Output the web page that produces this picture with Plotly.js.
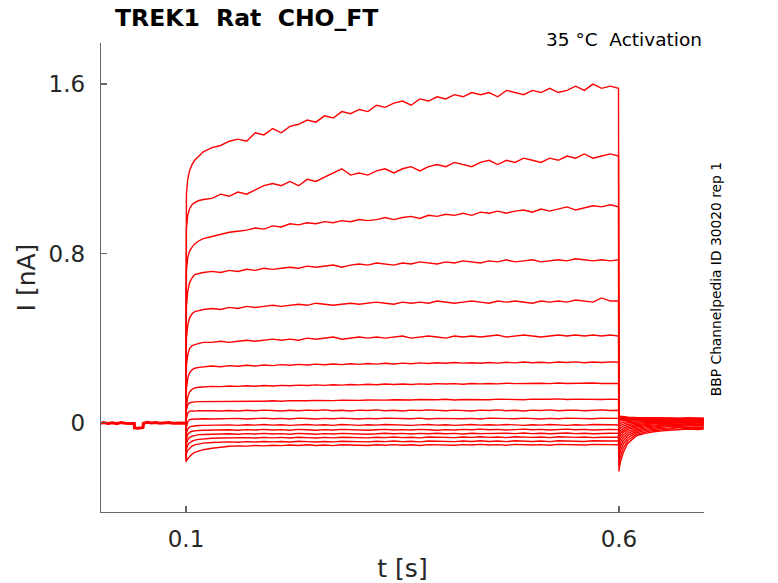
<!DOCTYPE html>
<html>
<head>
<meta charset="utf-8">
<script src="https://cdn.plot.ly/plotly-3.0.1.min.js"></script>
<style>html,body{margin:0;padding:0;background:#fff;}#plot{width:778px;height:583px;}</style>
</head>
<body>
<div id="plot"></div>
<script>
// time grids [s]
const tPre = [0.00185, 0.005, 0.01, 0.015, 0.02, 0.025, 0.03, 0.035, 0.0403, 0.0405, 0.045, 0.05, 0.0505, 0.0507, 0.055, 0.06, 0.065, 0.07, 0.075, 0.08, 0.085, 0.09, 0.095, 0.0998];
const tStep = [0.1, 0.1005, 0.102, 0.104, 0.107, 0.11, 0.115, 0.12, 0.13, 0.14,
  0.15, 0.16, 0.17, 0.18, 0.19, 0.2, 0.21, 0.22, 0.23, 0.24, 0.25, 0.26, 0.27, 0.28, 0.29,
  0.3, 0.31, 0.32, 0.33, 0.34, 0.35, 0.36, 0.37, 0.38, 0.39, 0.4, 0.41, 0.42, 0.43, 0.44,
  0.45, 0.46, 0.47, 0.48, 0.49, 0.5, 0.51, 0.52, 0.53, 0.54, 0.55, 0.56, 0.57, 0.58, 0.59, 0.5995];
const tTail = [0.6, 0.6005, 0.602, 0.605, 0.61, 0.62, 0.63, 0.64, 0.65, 0.66, 0.67, 0.68, 0.69, 0.698];

// holding current before the step [nA]
const basePre = [-0.002, 0.001, -0.003, 0.0, -0.004, 0.001, -0.002, -0.001, -0.003, -0.024, -0.026, -0.022, -0.025, -0.003, 0.002, -0.001, 0.001, -0.002, 0.0, 0.001, -0.002, 0.0, -0.001, -0.002];

// currents during the voltage step [nA], one array per sweep
const step1 = [0.95, 1.08, 1.15, 1.19, 1.22, 1.24, 1.26, 1.28, 1.30, 1.31,
  1.33, 1.34, 1.33, 1.37, 1.36, 1.39, 1.37, 1.40, 1.41, 1.43, 1.42, 1.45, 1.44, 1.47, 1.46,
  1.48, 1.47, 1.50, 1.49, 1.51, 1.52, 1.50, 1.53, 1.52, 1.54, 1.53, 1.55, 1.54, 1.56, 1.55,
  1.56, 1.54, 1.57, 1.56, 1.55, 1.57, 1.56, 1.58, 1.56, 1.57, 1.59, 1.57, 1.60, 1.58, 1.59, 1.58];
const step2 = [0.80, 0.92, 0.98, 1.01, 1.03, 1.04, 1.05, 1.055, 1.06, 1.08,
  1.07, 1.09, 1.08, 1.10, 1.12, 1.13, 1.12, 1.14, 1.12, 1.15, 1.14, 1.16, 1.18, 1.20, 1.17,
  1.18, 1.17, 1.19, 1.20, 1.18, 1.20, 1.21, 1.19, 1.21, 1.22, 1.21, 1.23, 1.22, 1.21, 1.23,
  1.24, 1.22, 1.24, 1.23, 1.25, 1.24, 1.23, 1.25, 1.24, 1.26, 1.25, 1.27, 1.25, 1.26, 1.27, 1.26];
const step3 = [0.62, 0.72, 0.78, 0.81, 0.83, 0.845, 0.86, 0.87, 0.88, 0.89,
  0.90, 0.905, 0.91, 0.92, 0.915, 0.93, 0.925, 0.94, 0.935, 0.945, 0.94, 0.95, 0.945, 0.955, 0.95,
  0.96, 0.955, 0.96, 0.97, 0.96, 0.97, 0.975, 0.965, 0.98, 0.975, 0.985, 0.98, 0.99, 0.98, 0.995,
  0.99, 1.00, 0.99, 1.00, 1.005, 0.995, 1.01, 1.00, 1.01, 1.02, 1.005, 1.015, 1.025, 1.02, 1.03, 1.02];
const step4 = [0.45, 0.55, 0.62, 0.66, 0.685, 0.70, 0.705, 0.71, 0.715, 0.71,
  0.72, 0.715, 0.725, 0.72, 0.73, 0.725, 0.73, 0.735, 0.73, 0.74, 0.735, 0.74, 0.745, 0.735, 0.745,
  0.75, 0.745, 0.755, 0.75, 0.745, 0.755, 0.75, 0.76, 0.755, 0.75, 0.76, 0.755, 0.765, 0.76, 0.755,
  0.765, 0.76, 0.77, 0.76, 0.765, 0.77, 0.76, 0.765, 0.77, 0.765, 0.775, 0.77, 0.765, 0.77, 0.765, 0.77];
const step5 = [0.30, 0.40, 0.46, 0.495, 0.515, 0.525, 0.53, 0.535, 0.54, 0.535,
  0.545, 0.54, 0.55, 0.545, 0.55, 0.555, 0.55, 0.555, 0.56, 0.555, 0.565, 0.56, 0.555, 0.56, 0.565,
  0.56, 0.565, 0.57, 0.565, 0.56, 0.57, 0.565, 0.57, 0.565, 0.575, 0.57, 0.565, 0.57, 0.575, 0.57,
  0.565, 0.575, 0.57, 0.575, 0.57, 0.565, 0.575, 0.57, 0.575, 0.57, 0.58, 0.575, 0.57, 0.59, 0.575, 0.575];
const step6 = [0.18, 0.27, 0.32, 0.35, 0.365, 0.37, 0.375, 0.38, 0.38, 0.385,
  0.38, 0.385, 0.39, 0.385, 0.39, 0.395, 0.39, 0.395, 0.39, 0.40, 0.395, 0.40, 0.405, 0.395, 0.40,
  0.405, 0.40, 0.405, 0.40, 0.405, 0.41, 0.40, 0.405, 0.41, 0.405, 0.40, 0.41, 0.405, 0.41, 0.405,
  0.41, 0.415, 0.405, 0.41, 0.415, 0.41, 0.405, 0.41, 0.415, 0.41, 0.415, 0.41, 0.415, 0.41, 0.415, 0.41];
const step7 = [0.08, 0.16, 0.21, 0.235, 0.25, 0.258, 0.262, 0.265, 0.268, 0.265,
  0.27, 0.267, 0.272, 0.268, 0.273, 0.27, 0.275, 0.272, 0.276, 0.273, 0.277, 0.274, 0.278, 0.275, 0.279,
  0.276, 0.28, 0.277, 0.281, 0.278, 0.282, 0.279, 0.283, 0.28, 0.284, 0.281, 0.285, 0.282, 0.284, 0.281,
  0.285, 0.282, 0.286, 0.283, 0.287, 0.284, 0.286, 0.283, 0.287, 0.285, 0.288, 0.284, 0.287, 0.285, 0.288, 0.286];
const step8 = [0.02, 0.08, 0.12, 0.145, 0.158, 0.165, 0.168, 0.17, 0.172, 0.171,
  0.174, 0.172, 0.175, 0.173, 0.176, 0.174, 0.177, 0.175, 0.178, 0.176, 0.179, 0.177, 0.18, 0.178, 0.181,
  0.179, 0.182, 0.18, 0.183, 0.181, 0.183, 0.181, 0.184, 0.182, 0.185, 0.183, 0.185, 0.182, 0.186, 0.184,
  0.186, 0.184, 0.187, 0.185, 0.186, 0.184, 0.187, 0.185, 0.188, 0.186, 0.187, 0.185, 0.188, 0.186, 0.187, 0.186];
const step9 = [0.0, 0.06, 0.085, 0.095, 0.098, 0.099, 0.1, 0.1, 0.101, 0.1,
  0.1, 0.102, 0.101, 0.103, 0.102, 0.104, 0.102, 0.105, 0.103, 0.104, 0.106, 0.104, 0.105, 0.107, 0.105,
  0.106, 0.108, 0.106, 0.107, 0.109, 0.107, 0.108, 0.11, 0.108, 0.109, 0.111, 0.108, 0.11, 0.109, 0.111,
  0.109, 0.112, 0.11, 0.111, 0.109, 0.112, 0.11, 0.111, 0.113, 0.11, 0.112, 0.111, 0.113, 0.11, 0.112, 0.111];
const step10 = [-0.04, 0.02, 0.045, 0.055, 0.056, 0.055, 0.057, 0.056, 0.057, 0.056,
  0.058, 0.056, 0.059, 0.057, 0.06, 0.058, 0.056, 0.059, 0.057, 0.06, 0.058, 0.061, 0.057, 0.059, 0.056,
  0.06, 0.058, 0.061, 0.057, 0.059, 0.056, 0.06, 0.058, 0.061, 0.059, 0.057, 0.06, 0.058, 0.056, 0.06,
  0.058, 0.061, 0.057, 0.059, 0.056, 0.06, 0.058, 0.061, 0.057, 0.059, 0.06, 0.057, 0.059, 0.061, 0.058, 0.059];
const step11 = [-0.07, -0.02, 0.005, 0.015, 0.017, 0.018, 0.017, 0.019, 0.018, 0.02,
  0.019, 0.021, 0.018, 0.02, 0.022, 0.019, 0.021, 0.018, 0.022, 0.02, 0.018, 0.021, 0.019, 0.022, 0.02,
  0.018, 0.021, 0.019, 0.022, 0.02, 0.021, 0.019, 0.022, 0.018, 0.021, 0.02, 0.022, 0.019, 0.021, 0.018,
  0.022, 0.02, 0.021, 0.019, 0.022, 0.02, 0.018, 0.021, 0.019, 0.022, 0.02, 0.021, 0.019, 0.022, 0.02, 0.021];
const step12 = [-0.1, -0.05, -0.03, -0.02, -0.016, -0.014, -0.013, -0.012, -0.011, -0.012,
  -0.01, -0.012, -0.009, -0.011, -0.008, -0.011, -0.009, -0.012, -0.01, -0.008, -0.011, -0.009, -0.012, -0.008, -0.01,
  -0.012, -0.009, -0.011, -0.008, -0.01, -0.009, -0.012, -0.01, -0.008, -0.011, -0.009, -0.012, -0.01, -0.008, -0.011,
  -0.009, -0.011, -0.008, -0.01, -0.012, -0.009, -0.011, -0.008, -0.01, -0.012, -0.009, -0.011, -0.008, -0.01, -0.009, -0.01];
const step13 = [-0.12, -0.08, -0.055, -0.045, -0.04, -0.038, -0.036, -0.035, -0.034, -0.035,
  -0.033, -0.035, -0.032, -0.034, -0.031, -0.034, -0.032, -0.035, -0.031, -0.033, -0.035, -0.032, -0.034, -0.031, -0.033,
  -0.032, -0.035, -0.033, -0.031, -0.034, -0.032, -0.034, -0.031, -0.033, -0.035, -0.032, -0.034, -0.031, -0.033, -0.03,
  -0.033, -0.031, -0.034, -0.032, -0.03, -0.033, -0.031, -0.034, -0.032, -0.03, -0.033, -0.031, -0.034, -0.032, -0.031, -0.032];
const step14 = [-0.14, -0.1, -0.08, -0.07, -0.063, -0.059, -0.056, -0.055, -0.053, -0.054,
  -0.052, -0.054, -0.051, -0.053, -0.05, -0.053, -0.051, -0.054, -0.05, -0.052, -0.054, -0.051, -0.053, -0.05, -0.052,
  -0.051, -0.054, -0.052, -0.049, -0.052, -0.05, -0.053, -0.05, -0.052, -0.049, -0.052, -0.05, -0.053, -0.049, -0.051,
  -0.05, -0.052, -0.049, -0.051, -0.048, -0.051, -0.049, -0.052, -0.05, -0.048, -0.051, -0.049, -0.052, -0.05, -0.049, -0.05];
const step15 = [-0.16, -0.125, -0.105, -0.095, -0.087, -0.082, -0.078, -0.076, -0.073, -0.072,
  -0.071, -0.073, -0.07, -0.072, -0.069, -0.071, -0.069, -0.072, -0.068, -0.07, -0.072, -0.069, -0.071, -0.068, -0.07,
  -0.069, -0.071, -0.068, -0.07, -0.067, -0.07, -0.068, -0.071, -0.067, -0.069, -0.068, -0.07, -0.067, -0.069, -0.066,
  -0.069, -0.067, -0.07, -0.066, -0.068, -0.069, -0.067, -0.07, -0.066, -0.068, -0.069, -0.067, -0.07, -0.068, -0.067, -0.068];
const step16 = [-0.175, -0.145, -0.13, -0.12, -0.11, -0.104, -0.099, -0.096, -0.093, -0.091,
  -0.09, -0.092, -0.089, -0.091, -0.088, -0.09, -0.088, -0.091, -0.087, -0.089, -0.091, -0.088, -0.09, -0.087, -0.089,
  -0.088, -0.09, -0.087, -0.089, -0.086, -0.089, -0.087, -0.09, -0.086, -0.088, -0.087, -0.089, -0.086, -0.088, -0.085,
  -0.088, -0.086, -0.089, -0.085, -0.087, -0.088, -0.086, -0.089, -0.085, -0.087, -0.086, -0.088, -0.085, -0.087, -0.086, -0.086];
const step17 = [-0.185, -0.18, -0.17, -0.16, -0.148, -0.14, -0.132, -0.127, -0.12, -0.115,
  -0.111, -0.109, -0.11, -0.107, -0.109, -0.106, -0.108, -0.105, -0.107, -0.104, -0.107, -0.105, -0.108, -0.104, -0.106,
  -0.105, -0.107, -0.104, -0.106, -0.103, -0.106, -0.104, -0.107, -0.103, -0.105, -0.104, -0.106, -0.103, -0.105, -0.102,
  -0.105, -0.103, -0.106, -0.102, -0.104, -0.105, -0.103, -0.106, -0.102, -0.104, -0.103, -0.105, -0.102, -0.104, -0.103, -0.104];

// tail currents after returning to holding [nA]
const tail1 = [-0.23, -0.21, -0.18, -0.14, -0.098, -0.062, -0.05, -0.042, -0.038, -0.035, -0.033, -0.03, -0.032, -0.03];
const tail2 = [-0.2, -0.18, -0.155, -0.12, -0.085, -0.055, -0.044, -0.036, -0.033, -0.028, -0.03, -0.026, -0.028, -0.025];
const tail3 = [-0.17, -0.155, -0.13, -0.1, -0.072, -0.047, -0.037, -0.031, -0.026, -0.024, -0.021, -0.023, -0.02, -0.021];
const tail4 = [-0.145, -0.13, -0.11, -0.085, -0.06, -0.04, -0.031, -0.025, -0.02, -0.018, -0.016, -0.017, -0.014, -0.015];
const tail5 = [-0.12, -0.11, -0.092, -0.07, -0.05, -0.033, -0.025, -0.019, -0.015, -0.012, -0.013, -0.01, -0.012, -0.011];
const tail6 = [-0.1, -0.09, -0.075, -0.057, -0.04, -0.026, -0.019, -0.014, -0.011, -0.009, -0.007, -0.009, -0.006, -0.007];
const tail7 = [-0.08, -0.072, -0.06, -0.045, -0.031, -0.02, -0.014, -0.01, -0.007, -0.005, -0.006, -0.003, -0.005, -0.004];
const tail8 = [-0.065, -0.058, -0.048, -0.036, -0.024, -0.014, -0.009, -0.005, -0.003, -0.002, 0.0, -0.002, 0.001, -0.001];
const tail9 = [-0.05, -0.044, -0.036, -0.026, -0.016, -0.008, -0.004, -0.001, 0.001, 0.002, 0.001, 0.003, 0.002, 0.002];
const tail10 = [-0.035, -0.03, -0.024, -0.016, -0.008, -0.002, 0.001, 0.003, 0.004, 0.005, 0.004, 0.006, 0.005, 0.005];
const tail11 = [-0.02, -0.017, -0.012, -0.006, 0.0, 0.004, 0.006, 0.007, 0.008, 0.007, 0.009, 0.008, 0.009, 0.008];
const tail12 = [-0.008, -0.005, -0.002, 0.003, 0.006, 0.009, 0.01, 0.011, 0.01, 0.012, 0.011, 0.012, 0.01, 0.011];
const tail13 = [0.005, 0.007, 0.009, 0.011, 0.012, 0.013, 0.014, 0.013, 0.015, 0.014, 0.013, 0.015, 0.014, 0.013];
const tail14 = [0.015, 0.016, 0.017, 0.017, 0.016, 0.017, 0.016, 0.018, 0.016, 0.017, 0.018, 0.016, 0.017, 0.016];
const tail15 = [0.022, 0.022, 0.021, 0.021, 0.02, 0.02, 0.019, 0.02, 0.019, 0.02, 0.018, 0.02, 0.019, 0.018];
const tail16 = [0.028, 0.027, 0.026, 0.025, 0.024, 0.023, 0.022, 0.023, 0.021, 0.022, 0.021, 0.022, 0.02, 0.021];
const tail17 = [0.035, 0.033, 0.031, 0.029, 0.027, 0.025, 0.024, 0.025, 0.023, 0.024, 0.022, 0.024, 0.023, 0.022];

const steps = [step1, step2, step3, step4, step5, step6, step7, step8, step9, step10, step11, step12, step13, step14, step15, step16, step17];
const tails = [tail1, tail2, tail3, tail4, tail5, tail6, tail7, tail8, tail9, tail10, tail11, tail12, tail13, tail14, tail15, tail16, tail17];

const xTicks = [0.1, 0.6];
const xTickText = ['0.1', '0.6'];
const yTicks = [0, 0.8, 1.6];
const yTickText = ['0', '0.8', '1.6'];

const FONT = 'DejaVu Sans, Liberation Sans, sans-serif';
const RED = '#ff0000';

const tAll = tPre.concat(tStep, tTail);
const traces = steps.map((s, i) => ({
  type: 'scatter', mode: 'lines',
  x: tAll,
  y: basePre.concat(s, tails[i]),
  line: {color: RED, width: 1.4},
  hoverinfo: 'skip', showlegend: false
}));
traces.push({
  type: 'scatter', mode: 'lines', x: tPre, y: basePre,
  line: {color: RED, width: 3}, hoverinfo: 'skip', showlegend: false
});

const axisCommon = {
  showline: true, linecolor: '#666', linewidth: 1.3,
  ticks: 'inside', ticklen: 6, tickwidth: 1.2, tickcolor: '#666',
  showgrid: false, zeroline: false, automargin: false,
  tickfont: {family: FONT, size: 23, color: '#262626'}
};

const layout = {
  width: 778, height: 583,
  margin: {l: 101, r: 74, t: 43, b: 71, pad: 0},
  paper_bgcolor: '#fff', plot_bgcolor: '#fff',
  font: {family: FONT},
  xaxis: Object.assign({}, axisCommon, {
    range: [0.00185, 0.6982],
    tickmode: 'array', tickvals: xTicks, ticktext: xTickText,
    ticklabelstandoff: 6,
    title: {text: 't [s]', font: {family: FONT, size: 25, color: '#262626'}, standoff: 9}
  }),
  yaxis: Object.assign({}, axisCommon, {
    range: [-0.4213, 1.794],
    tickmode: 'array', tickvals: yTicks, ticktext: yTickText,
    ticklabelstandoff: 10,
    title: {text: 'I [nA]', font: {family: FONT, size: 25, color: '#262626'}, standoff: 5}
  }),
  annotations: [
    {xref: 'paper', yref: 'paper', x: 0.0199, y: 1.0533, xanchor: 'left', yanchor: 'middle',
     text: '<b>TREK1\u00a0\u00a0Rat\u00a0\u00a0CHO_FT</b>', showarrow: false,
     font: {family: FONT, size: 23.5, color: '#000'}},
    {xref: 'paper', yref: 'paper', x: 1.0, y: 1.0064, xanchor: 'right', yanchor: 'middle',
     text: '35 °C\u00a0\u00a0Activation', showarrow: false,
     font: {family: FONT, size: 18.5, color: '#000'}},
    {xref: 'paper', yref: 'paper', x: 1.0199, y: 0.4965, xanchor: 'center', yanchor: 'middle',
     text: 'BBP Channelpedia ID 30020 rep 1', textangle: -90, showarrow: false,
     font: {family: FONT, size: 13.8, color: '#000'}}
  ]
};

Plotly.newPlot('plot', traces, layout, {staticPlot: true, displayModeBar: false});
</script>
</body>
</html>
